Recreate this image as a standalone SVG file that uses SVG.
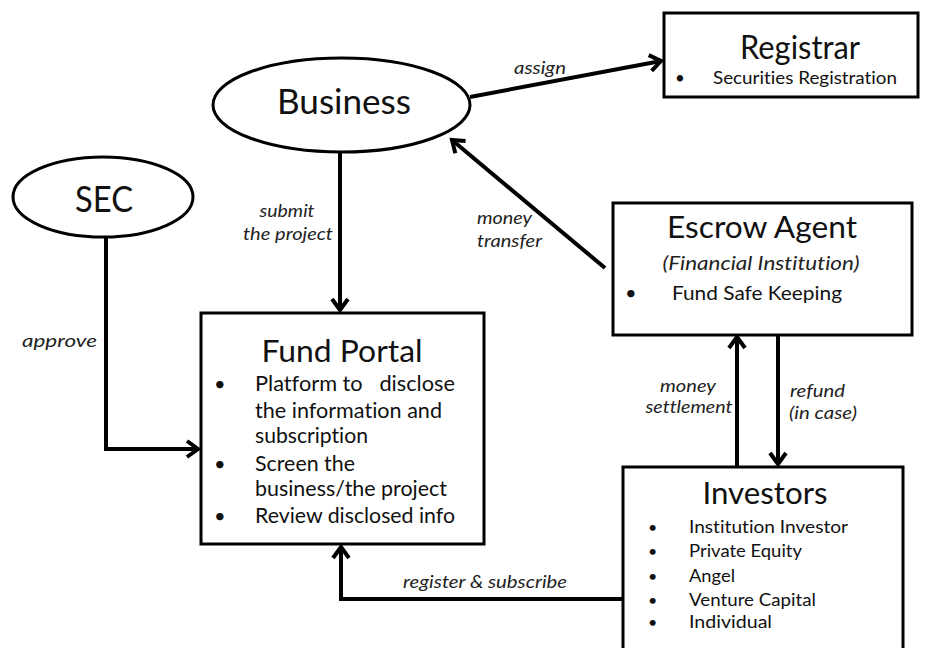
<svg xmlns="http://www.w3.org/2000/svg" width="926" height="648" viewBox="0 0 926 648">
<style>
.bg{fill:#fff}
.box{fill:#fff;stroke:#000;stroke-width:3}
.t{font-family:Lato,"Liberation Sans",sans-serif;fill:#111;font-variant-ligatures:none;font-feature-settings:"liga" 0}
.i{font-family:Lato,"Liberation Sans",sans-serif;font-style:italic;fill:#222;font-variant-ligatures:none;font-feature-settings:"liga" 0}
.c{stroke:#000;stroke-width:4;fill:none;stroke-linejoin:miter}
</style>
<defs>
<marker id="arr" markerUnits="userSpaceOnUse" viewBox="-16 -12 20 24" refX="0" refY="0" markerWidth="20" markerHeight="24" orient="auto" overflow="visible">
<path d="M-11,-8 L0,0 L-11,8" fill="none" stroke="#000" stroke-width="4"/>
</marker>
</defs>
<rect class="bg" x="0" y="0" width="926" height="648"/>

<g id="connectors">
<line class="c" x1="470" y1="97" x2="661" y2="61" marker-end="url(#arr)"/>
<line class="c" x1="340" y1="152" x2="340" y2="310" marker-end="url(#arr)"/>
<line class="c" x1="605" y1="268" x2="452" y2="140" marker-end="url(#arr)"/>
<polyline class="c" points="106,237 106,449 198,449" marker-end="url(#arr)"/>
<line class="c" x1="737" y1="467" x2="737" y2="337" marker-end="url(#arr)"/>
<line class="c" x1="778" y1="335" x2="778" y2="464" marker-end="url(#arr)"/>
<polyline class="c" points="622,599 341,599 341,547" marker-end="url(#arr)"/>
<text class="i" x="514" y="74" font-size="18" textLength="52" lengthAdjust="spacingAndGlyphs">assign</text>
<text class="i" x="287" y="217" font-size="18" text-anchor="middle" textLength="55" lengthAdjust="spacingAndGlyphs">submit</text>
<text class="i" x="288" y="240" font-size="18" text-anchor="middle" textLength="90" lengthAdjust="spacingAndGlyphs">the project</text>
<text class="i" x="477" y="224" font-size="18" textLength="55" lengthAdjust="spacingAndGlyphs">money</text>
<text class="i" x="477" y="247" font-size="18" textLength="65" lengthAdjust="spacingAndGlyphs">transfer</text>
<text class="i" x="22" y="347" font-size="18" textLength="75" lengthAdjust="spacingAndGlyphs">approve</text>
<text class="i" x="688" y="392" font-size="18" text-anchor="middle" textLength="56" lengthAdjust="spacingAndGlyphs">money</text>
<text class="i" x="689" y="413" font-size="18" text-anchor="middle" textLength="87" lengthAdjust="spacingAndGlyphs">settlement</text>
<text class="i" x="790" y="397" font-size="18" textLength="55" lengthAdjust="spacingAndGlyphs">refund</text>
<text class="i" x="789" y="419" font-size="18" textLength="68" lengthAdjust="spacingAndGlyphs">(in case)</text>
<text class="i" x="403" y="588" font-size="18" textLength="164" lengthAdjust="spacingAndGlyphs">register &amp; subscribe</text>
</g>

<g id="registrar">
<rect class="box" x="664" y="13" width="254" height="84"/>
<text class="t" x="800" y="59" font-size="33" text-anchor="middle" textLength="120" lengthAdjust="spacingAndGlyphs">Registrar</text>
<text class="t" x="675" y="84" font-size="17">•</text>
<text class="t" x="713" y="84" font-size="18" textLength="184" lengthAdjust="spacingAndGlyphs">Securities Registration</text>
</g>

<g id="business">
<ellipse class="box" cx="341.5" cy="105" rx="128.5" ry="47"/>
<text class="t" x="344" y="114" font-size="34" text-anchor="middle" textLength="134" lengthAdjust="spacingAndGlyphs">Business</text>
</g>

<g id="sec">
<ellipse class="box" cx="103" cy="197" rx="90" ry="40"/>
<text class="t" x="104" y="212" font-size="37" text-anchor="middle" textLength="58" lengthAdjust="spacingAndGlyphs">SEC</text>
</g>

<g id="fund-portal">
<rect class="box" x="201" y="313" width="283" height="231"/>
<text class="t" x="342" y="362" font-size="30" text-anchor="middle" textLength="161" lengthAdjust="spacingAndGlyphs">Fund Portal</text>
<text class="t" x="214" y="391" font-size="20">•</text>
<text class="t" x="255" y="391" font-size="21" xml:space="preserve" textLength="200" lengthAdjust="spacingAndGlyphs">Platform to   disclose</text>
<text class="t" x="255" y="418" font-size="21" textLength="187" lengthAdjust="spacingAndGlyphs">the information and</text>
<text class="t" x="255" y="443" font-size="21" textLength="113" lengthAdjust="spacingAndGlyphs">subscription</text>
<text class="t" x="214" y="471" font-size="20">•</text>
<text class="t" x="255" y="471" font-size="21" textLength="100" lengthAdjust="spacingAndGlyphs">Screen the</text>
<text class="t" x="255" y="496" font-size="21" textLength="192" lengthAdjust="spacingAndGlyphs">business/the project</text>
<text class="t" x="214" y="523" font-size="20">•</text>
<text class="t" x="255" y="523" font-size="21" textLength="200" lengthAdjust="spacingAndGlyphs">Review disclosed info</text>
</g>

<g id="escrow-agent">
<rect class="box" x="613" y="203" width="299" height="132"/>
<text class="t" x="762" y="238" font-size="30" text-anchor="middle" textLength="190" lengthAdjust="spacingAndGlyphs">Escrow Agent</text>
<text class="i" x="761" y="270" font-size="20" text-anchor="middle" textLength="197" lengthAdjust="spacingAndGlyphs">(Financial Institution)</text>
<text class="t" x="625" y="300" font-size="20">•</text>
<text class="t" x="672" y="300" font-size="20" textLength="170" lengthAdjust="spacingAndGlyphs">Fund Safe Keeping</text>
</g>

<g id="investors">
<rect class="box" x="623" y="467" width="280" height="200"/>
<text class="t" x="765" y="504" font-size="30" text-anchor="middle" textLength="125" lengthAdjust="spacingAndGlyphs">Investors</text>
<text class="t" x="648" y="533" font-size="16">•</text>
<text class="t" x="689" y="533" font-size="18" textLength="159" lengthAdjust="spacingAndGlyphs">Institution Investor</text>
<text class="t" x="648" y="557" font-size="16">•</text>
<text class="t" x="689" y="557" font-size="18" textLength="113" lengthAdjust="spacingAndGlyphs">Private Equity</text>
<text class="t" x="648" y="582" font-size="16">•</text>
<text class="t" x="689" y="582" font-size="18" textLength="46" lengthAdjust="spacingAndGlyphs">Angel</text>
<text class="t" x="648" y="606" font-size="16">•</text>
<text class="t" x="689" y="606" font-size="18" textLength="127" lengthAdjust="spacingAndGlyphs">Venture Capital</text>
<text class="t" x="648" y="628" font-size="16">•</text>
<text class="t" x="689" y="628" font-size="18" textLength="83" lengthAdjust="spacingAndGlyphs">Individual</text>
</g>
</svg>
